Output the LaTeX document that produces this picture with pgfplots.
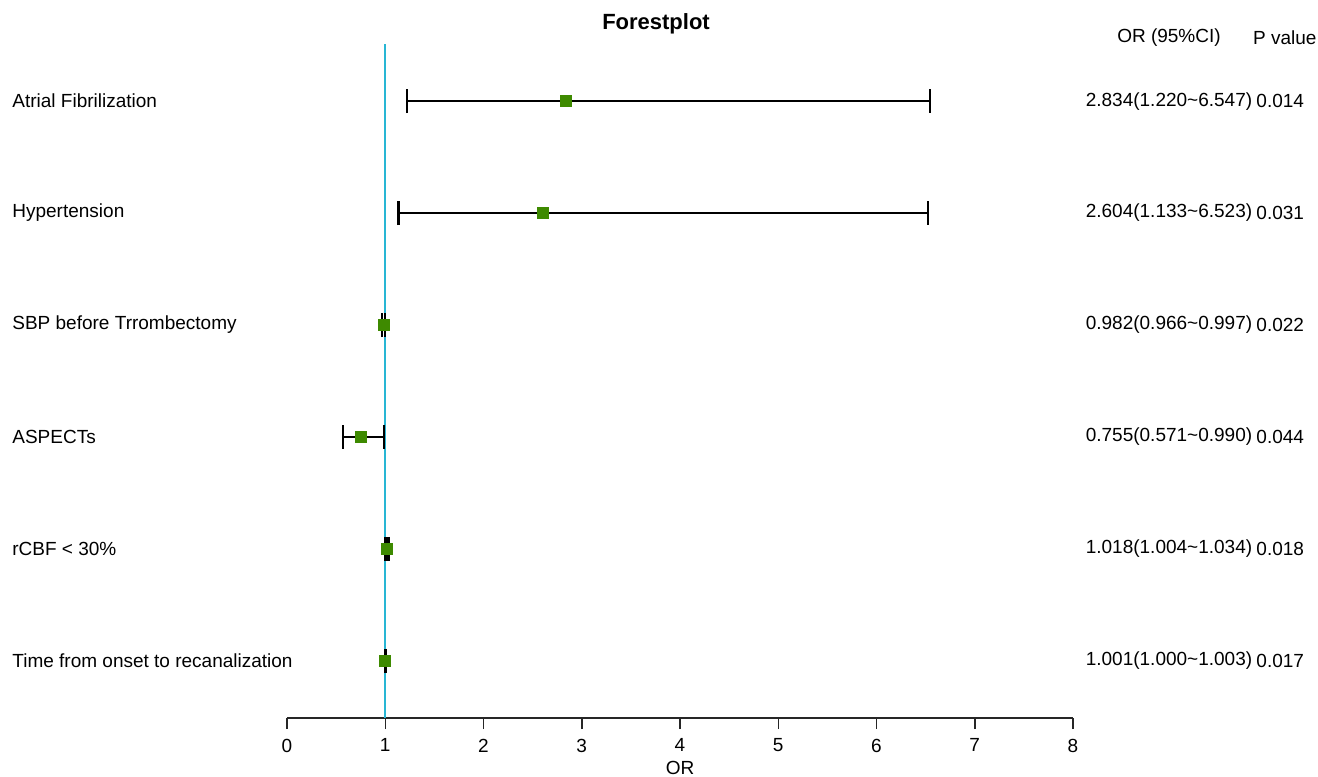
\documentclass[border=0pt]{standalone}
\usepackage{fontspec}
\setmainfont{Liberation Sans}
\usepackage{pgfplots}
\usepackage{pgfplotstable}
\pgfplotsset{compat=1.18}
\definecolor{boxgreen}{RGB}{62,138,0}
\definecolor{vlinecol}{RGB}{40,182,212}
\pgfplotstableread{
y or lo hi
6 2.834 1.220 6.547
5 2.604 1.133 6.523
4 0.982 0.966 0.997
3 0.755 0.571 0.990
2 1.018 1.004 1.034
1 1.001 1.000 1.003
}\data
\begin{document}
\fontsize{9.5pt}{11pt}\selectfont
\begin{tikzpicture}
\begin{axis}[
  name=ax,
  scale only axis, width=393pt, height=337pt,
  xmin=0, xmax=8, ymin=0.49, ymax=6.51,
  axis x line*=bottom, axis y line=none,
  x axis line style={-, line width=0.75pt, black!85},
  xtick={0,1,...,8}, ytick=\empty,
  tick align=outside, major tick length=5.5pt,
  tick style={black!85, line width=0.75pt},
  x tick label style={font=\fontsize{9.5pt}{11pt}\selectfont, yshift=-1.5pt},
  /pgf/number format/assume math mode=true,
  clip=false,
]
\addplot[color=vlinecol, line width=0.8pt, mark=none] coordinates {(1,0.49) (1,6.51)};
\addplot[only marks, mark=none,
  error bars/.cd, x dir=both, x explicit,
  error bar style={black, line width=1.1pt},
  error mark options={black, line width=1.2pt, mark size=6pt, rotate=90}]
  table[x=or, y=y, x error plus expr=\thisrow{hi}-\thisrow{or}, x error minus expr=\thisrow{or}-\thisrow{lo}] {\data};
\addplot[only marks, mark=square*, mark size=2.75pt, boxgreen] table[x=or, y=y] {\data};
\begin{scope}[every node/.style={inner sep=0pt}]
% left labels
\node[anchor=west] at (axis cs:-2.799,6) {Atrial Fibrilization};
\node[anchor=west] at (axis cs:-2.799,5) {Hypertension};
\node[anchor=west] at (axis cs:-2.799,4) {SBP before Trrombectomy};
\node[anchor=west] at (axis cs:-2.799,3) {ASPECTs};
\node[anchor=west] at (axis cs:-2.799,2) {rCBF < 30\%};
\node[anchor=west] at (axis cs:-2.799,1) {Time from onset to recanalization};
% right columns
\node at (axis cs:8.977,6.567) {OR (95\%CI)};
\node[anchor=west] at (axis cs:9.83,6.567) {P value};
\node at (axis cs:8.977,6) {2.834(1.220\textasciitilde 6.547)};
\node at (axis cs:8.977,5) {2.604(1.133\textasciitilde 6.523)};
\node at (axis cs:8.977,4) {0.982(0.966\textasciitilde 0.997)};
\node at (axis cs:8.977,3) {0.755(0.571\textasciitilde 0.990)};
\node at (axis cs:8.977,2) {1.018(1.004\textasciitilde 1.034)};
\node at (axis cs:8.977,1) {1.001(1.000\textasciitilde 1.003)};
\node[anchor=west] at (axis cs:9.863,6) {0.014};
\node[anchor=west] at (axis cs:9.863,5) {0.031};
\node[anchor=west] at (axis cs:9.863,4) {0.022};
\node[anchor=west] at (axis cs:9.863,3) {0.044};
\node[anchor=west] at (axis cs:9.863,2) {0.018};
\node[anchor=west] at (axis cs:9.863,1) {0.017};
% title and x label
\node[font=\bfseries\fontsize{11pt}{13pt}\selectfont] at (axis cs:3.756,6.69) {Forestplot};
\node at (axis cs:4,0.045) {OR};
\end{scope}
\end{axis}
\pgfresetboundingbox
\path[use as bounding box] ([xshift=-143.5pt,yshift=-29pt]ax.south west) rectangle ([xshift=122.5pt,yshift=22pt]ax.north east);
\end{tikzpicture}
\end{document}
